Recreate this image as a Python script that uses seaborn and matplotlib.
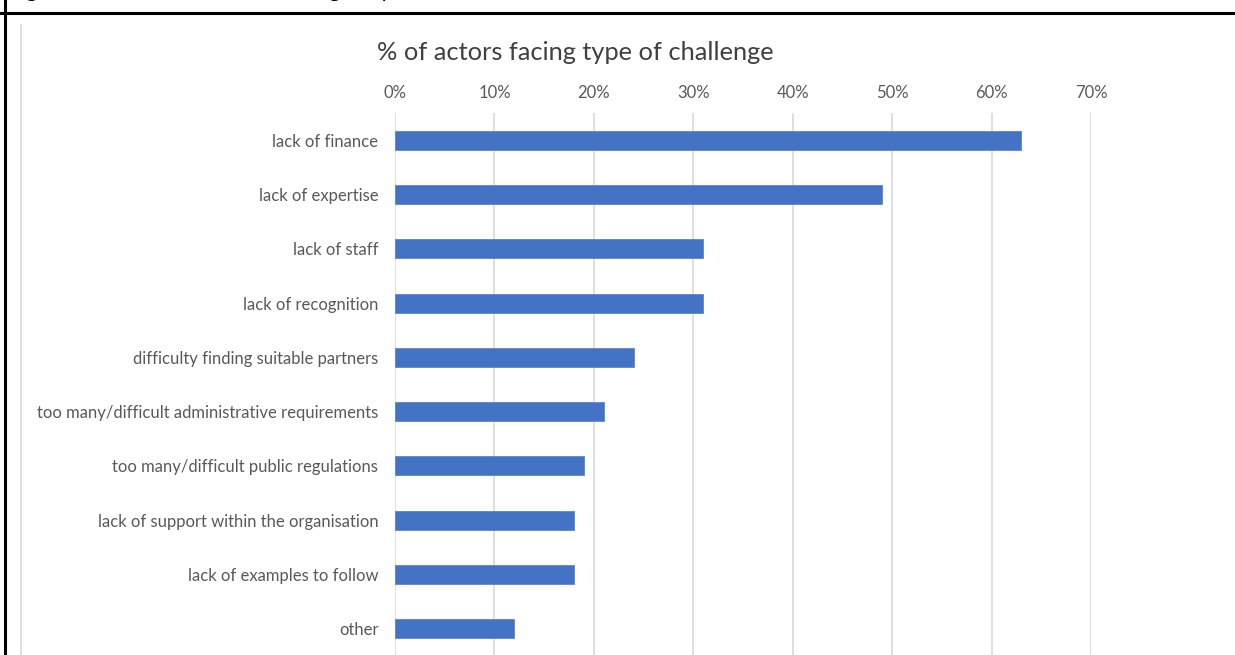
import matplotlib
matplotlib.use("Agg")
import matplotlib.pyplot as plt
from matplotlib.ticker import PercentFormatter
from matplotlib.lines import Line2D
import seaborn as sns

# Share of actors reporting each challenge (%)
challenges = [
    "lack of finance",
    "lack of expertise",
    "lack of staff",
    "lack of recognition",
    "difficulty finding suitable partners",
    "too many/difficult administrative requirements",
    "too many/difficult public regulations",
    "lack of support within the organisation",
    "lack of examples to follow",
    "other",
]
share_pct = [63, 49, 31, 31, 24, 21, 19, 18, 18, 12]
x_ticks = [0, 10, 20, 30, 40, 50, 60, 70]

caption = "Figure 10: Most common challenges by actors"
title = "% of actors facing type of challenge"

sns.set_theme(style="white")
plt.rcParams["font.family"] = ["Lato", "DejaVu Sans"]

bar_color = "#4472C4"
text_color = "#595959"
grid_color = "#D9D9D9"

fig = plt.figure(figsize=(12.35, 6.55), dpi=100)
ax = fig.add_axes([395 / 1235, 1 - 656 / 655, 696 / 1235, 543 / 655])

sns.barplot(x=share_pct, y=challenges, orient="h", color=bar_color,
            saturation=1, width=0.35, ax=ax, edgecolor="#5B85D0", linewidth=0.6)

ax.set_xlim(0, 70)
ax.set_xticks(x_ticks)
ax.xaxis.set_major_formatter(PercentFormatter(100, decimals=0))
ax.xaxis.tick_top()
ax.set_xlabel("")
ax.set_ylabel("")
ax.tick_params(axis="x", length=0, pad=9, labelsize=12, labelcolor=text_color)
ax.tick_params(axis="y", length=0, pad=12, labelsize=12, labelcolor=text_color)
ax.grid(axis="x", color=grid_color, linewidth=1.2)
ax.set_axisbelow(True)
for side in ax.spines.values():
    side.set_visible(False)

fig.text(575 / 1235, 1 - 52 / 655, title, ha="center", va="center",
         fontsize=18.3, color="#404040")

# Caption line above the framed chart (only its lower edge falls inside)
fig.text(8 / 1235, 1 + 3 / 655, caption, ha="left", va="baseline",
         fontsize=16, color="black")

# Frame lines and the chart-area edge
fig.add_artist(Line2D([0, 1], [1 - 12.5 / 655] * 2, color="black", linewidth=2.2,
                      transform=fig.transFigure))
fig.add_artist(Line2D([5 / 1235] * 2, [0, 1], color="black", linewidth=2.2,
                      transform=fig.transFigure))
fig.add_artist(Line2D([21 / 1235] * 2, [0, 1 - 25 / 655], color="#D9D9D9",
                      linewidth=1.2, transform=fig.transFigure))

fig.savefig("out.png", dpi=100)
